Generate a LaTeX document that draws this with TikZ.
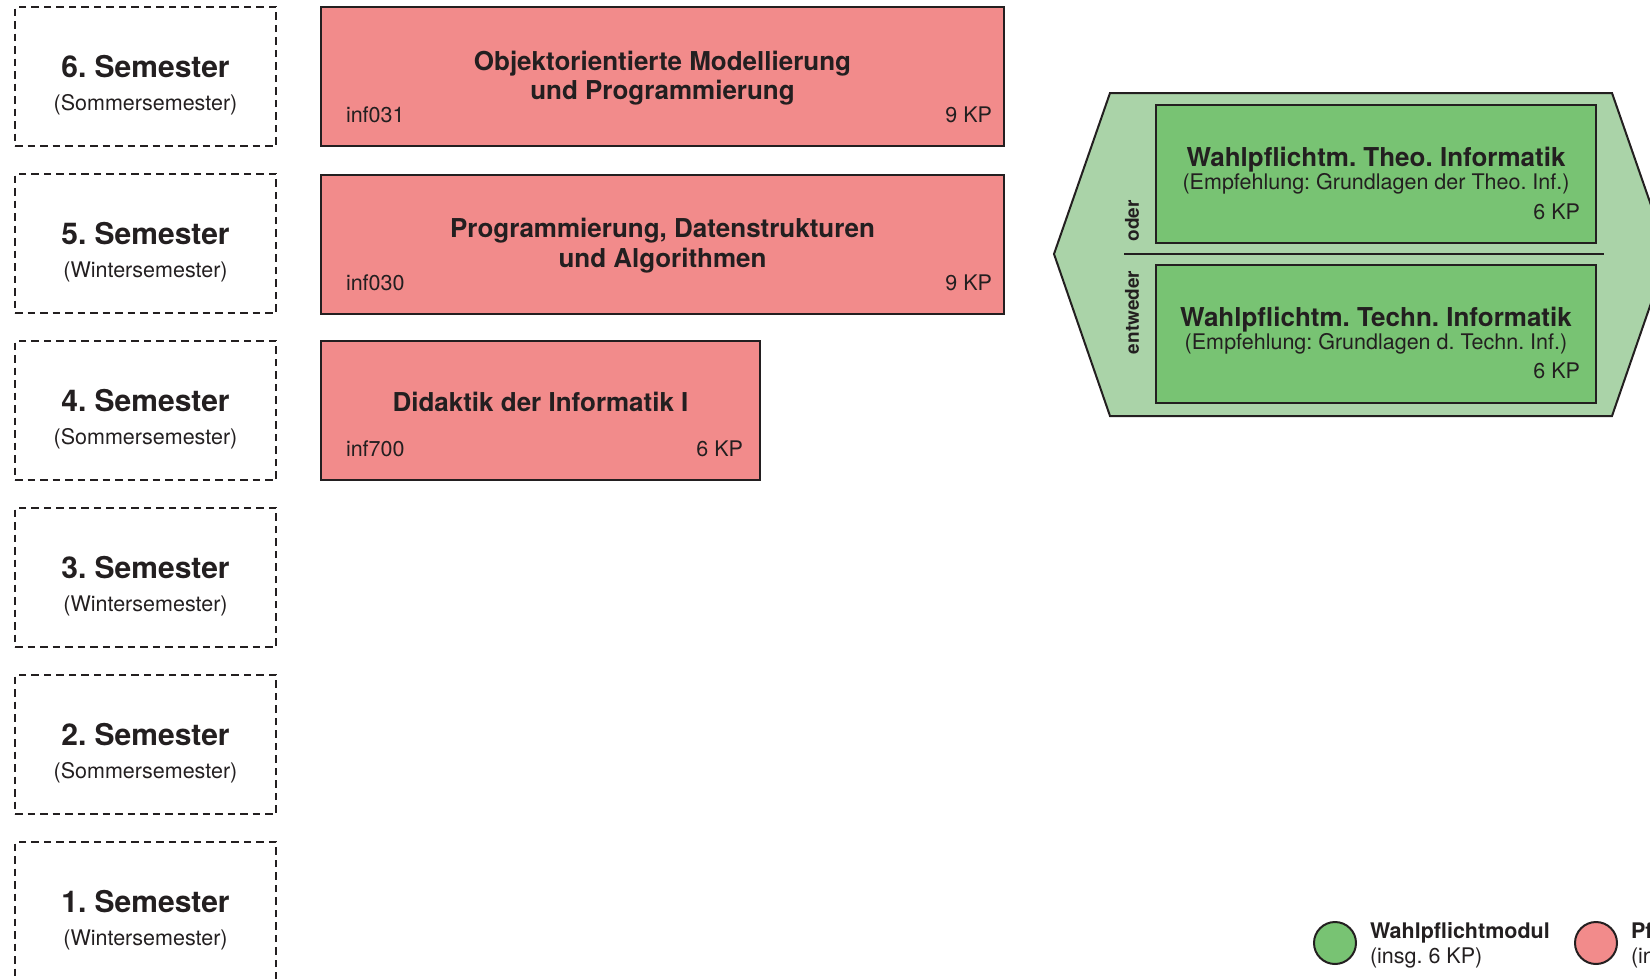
\documentclass[tikz,border=0pt]{standalone}
\usepackage{fontspec}
\setmainfont{TeX Gyre Heros}
\frenchspacing
\definecolor{ink}{HTML}{231F20}
\definecolor{pflicht}{HTML}{F28B8B}
\definecolor{wahl}{HTML}{78C373}
\definecolor{hexgreen}{HTML}{AAD3A8}
\begin{document}
\begin{tikzpicture}[x=1pt,y=-1pt,
  every node/.style={text=ink, inner sep=0pt, outer sep=0pt},
  sembox/.style={draw=ink, line width=2pt, dash pattern=on 7.5pt off 5pt, minimum width=261pt, minimum height=139pt, anchor=north west},
  pbox/.style={draw=ink, fill=pflicht, line width=2pt, anchor=north west, minimum height=139pt},
  wbox/.style={draw=ink, fill=wahl, line width=2pt, anchor=north west, minimum width=440pt, minimum height=138pt},
  semtitle/.style={font=\fontsize{30}{36}\selectfont\bfseries, anchor=base},
  regtext/.style={font=\fontsize{21.5}{26}\selectfont},
  modtitle/.style={font=\fontsize{26}{30}\selectfont\bfseries, anchor=base},
  sidetext/.style={font=\fontsize{19}{23}\selectfont\bfseries, rotate=90},
  legcircle/.style={circle, draw=ink, line width=2pt, minimum size=42pt}
]
\useasboundingbox (0,0) rectangle (1650,978);
\clip (0,0) rectangle (1650,978);

% semester column
\foreach \k/\n/\sname in {0/6/Sommer,1/5/Winter,2/4/Sommer,3/3/Winter,4/2/Sommer,5/1/Winter} {
  \pgfmathsetmacro\tp{7+167*\k}
  \node[sembox] (sem\n) at (15,\tp) {};
  \node[semtitle] (semt\n) at (145.5,\tp+70.5) {\n. Semester};
  \node[regtext, anchor=base] (sems\n) at (145.5,\tp+103) {(\sname semester)};
}

% Pflichtmodule
\node[pbox, minimum width=683pt] (m1) at (321,7) {};
\node[modtitle] (m1a) at (662.5,70) {Objektorientierte Modellierung};
\node[modtitle] (m1b) at (662.5,99.5) {und Programmierung};
\node[regtext, anchor=base west] (m1c) at (346,122.5) {inf031};
\node[regtext, anchor=base east] (m1d) at (992,122.5) {9 KP};

\node[pbox, minimum width=683pt] (m2) at (321,175) {};
\node[modtitle] (m2a) at (662.5,237.5) {Programmierung, Datenstrukturen};
\node[modtitle] (m2b) at (662.5,267) {und Algorithmen};
\node[regtext, anchor=base west] (m2c) at (346,290) {inf030};
\node[regtext, anchor=base east] (m2d) at (992,290) {9 KP};

\node[pbox, minimum width=439pt] (m3) at (321,341) {};
\node[modtitle] (m3a) at (540.5,411.5) {Didaktik der Informatik I};
\node[regtext, anchor=base west] (m3c) at (346,456) {inf700};
\node[regtext, anchor=base east] (m3d) at (743,456) {6 KP};

% Wahlpflicht group
\draw[draw=ink, fill=hexgreen, line width=2pt]
  (1054,254) -- (1110,93) -- (1612,93) -- (1668,254) -- (1612,416) -- (1110,416) -- cycle;
\coordinate (divl) at (1124,254);
\coordinate (divr) at (1604,254);
\draw[draw=ink, line width=2pt] (divl) -- (divr);
\node[sidetext] (oder) at (1132,221) {oder};
\node[sidetext] (entw) at (1132,312.5) {entweder};

\node[wbox] (w1) at (1156,105) {};
\node[modtitle] (w1a) at (1376,166.5) {Wahlpflichtm. Theo. Informatik};
\node[regtext, anchor=base] (w1b) at (1376,189.5) {(Empfehlung: Grundlagen der Theo. Inf.)};
\node[regtext, anchor=base east] (w1c) at (1580,219.5) {6 KP};

\node[wbox] (w2) at (1156,265) {};
\node[modtitle] (w2a) at (1376,326.5) {Wahlpflichtm. Techn. Informatik};
\node[regtext, anchor=base] (w2b) at (1376,349.5) {(Empfehlung: Grundlagen d. Techn. Inf.)};
\node[regtext, anchor=base east] (w2c) at (1580,378.5) {6 KP};

% legend
\node[legcircle, fill=wahl] (lg1) at (1335,943) {};
\node[regtext, font=\fontsize{21.5}{26}\selectfont\bfseries, anchor=base west] (lg1a) at (1370,938) {Wahlpflichtmodul};
\node[regtext, anchor=base west] (lg1b) at (1370,963) {(insg. 6 KP)};
\node[legcircle, fill=pflicht] (lg2) at (1596,943) {};
\node[regtext, font=\fontsize{21.5}{26}\selectfont\bfseries, anchor=base west] (lg2a) at (1631,938) {Pflichtmodul};
\node[regtext, anchor=base west] (lg2b) at (1631,963) {(insg. 24 KP)};
\end{tikzpicture}
\end{document}
